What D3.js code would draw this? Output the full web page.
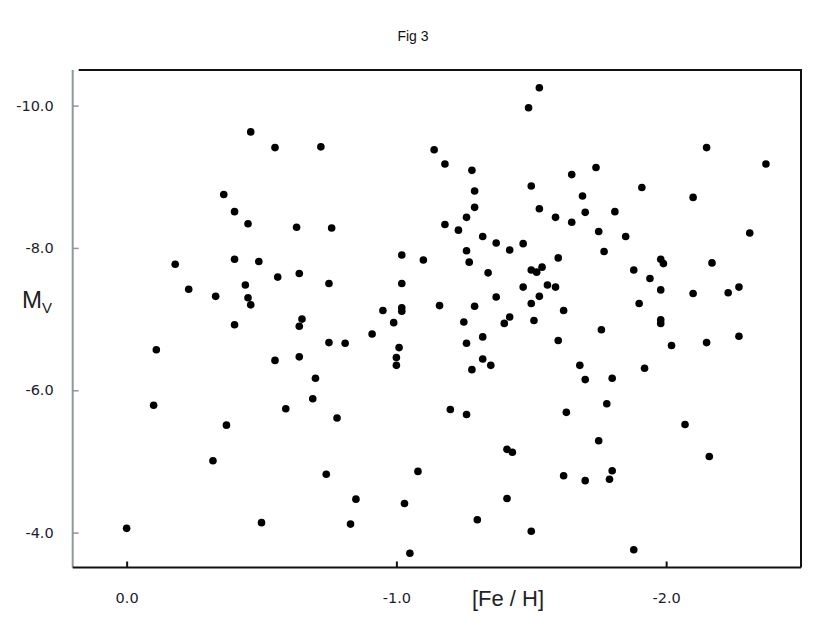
<!DOCTYPE html>
<html>
<head>
<meta charset="utf-8">
<script src="https://cdn.jsdelivr.net/npm/d3@7"></script>
<style>
  body { margin: 0; background: #fff; }
  svg { display: block; }
</style>
</head>
<body>
<div id="chart"></div>
<script>
// [Fe/H] and M_V, one pair per star
var feH = [
  0.00, -0.11, -0.10, -0.18, -0.23, -0.33, -0.32, -0.36, -0.37, -0.40,
  -0.40, -0.40, -0.44, -0.45, -0.45, -0.46, -0.46, -0.49, -0.50, -0.55,
  -0.55, -0.56, -0.59, -0.63, -0.64, -0.64, -0.64, -0.65, -0.69, -0.70,
  -0.72, -0.74, -0.75, -0.75, -0.76, -0.78, -0.81, -0.83, -0.85, -0.91,
  -0.95, -0.99, -1.01, -1.00, -1.00, -1.02, -1.02, -1.02, -1.02, -1.03,
  -1.05, -1.08, -1.10, -1.14, -1.16, -1.18, -1.18, -1.20, -1.23, -1.25,
  -1.26, -1.26, -1.26, -1.26, -1.27, -1.28, -1.28, -1.29, -1.29, -1.29,
  -1.30, -1.32, -1.32, -1.32, -1.34, -1.35, -1.37, -1.37, -1.40, -1.41,
  -1.41, -1.42, -1.42, -1.43, -1.47, -1.47, -1.49, -1.50, -1.50, -1.50,
  -1.50, -1.51, -1.52, -1.53, -1.53, -1.53, -1.54, -1.56, -1.59, -1.59,
  -1.60, -1.60, -1.62, -1.62, -1.63, -1.65, -1.65, -1.68, -1.69, -1.70,
  -1.70, -1.70, -1.74, -1.75, -1.75, -1.76, -1.77, -1.78, -1.79, -1.80,
  -1.80, -1.81, -1.85, -1.88, -1.88, -1.90, -1.91, -1.92, -1.94, -1.98,
  -1.99, -1.98, -1.98, -1.98, -2.02, -2.07, -2.10, -2.10, -2.15, -2.15,
  -2.16, -2.17, -2.23, -2.27, -2.27, -2.31, -2.37
];
var mV = [
  -4.06, -6.57, -5.79, -7.77, -7.42, -7.32, -5.01, -8.75, -5.51, -8.51,
  -7.84, -6.92, -7.48, -8.34, -7.30, -7.20, -9.63, -7.81, -4.14, -9.41,
  -6.42, -7.59, -5.74, -8.29, -7.64, -6.90, -6.47, -7.00, -5.88, -6.17,
  -9.42, -4.82, -7.50, -6.67, -8.28, -5.61, -6.66, -4.12, -4.47, -6.79,
  -7.12, -6.95, -6.60, -6.46, -6.35, -7.90, -7.50, -7.16, -7.11, -4.41,
  -3.71, -4.86, -7.83, -9.38, -7.19, -9.18, -8.33, -5.73, -8.25, -6.96,
  -8.43, -7.96, -6.66, -5.66, -7.80, -9.09, -6.29, -8.80, -8.57, -7.18,
  -4.18, -8.16, -6.75, -6.44, -7.65, -6.35, -8.07, -7.31, -6.94, -5.17,
  -4.48, -7.97, -7.03, -5.13, -8.06, -7.45, -9.97, -8.87, -7.69, -7.22,
  -4.02, -6.98, -7.66, -10.25, -8.55, -7.32, -7.73, -7.48, -8.43, -7.45,
  -7.86, -6.70, -7.12, -4.80, -5.69, -9.03, -8.36, -6.35, -8.73, -8.50,
  -6.15, -4.73, -9.13, -8.23, -5.29, -6.85, -7.95, -5.81, -4.75, -6.17,
  -4.87, -8.51, -8.16, -7.69, -3.76, -7.22, -8.85, -6.31, -7.57, -7.84,
  -7.78, -7.41, -6.99, -6.94, -6.63, -5.52, -8.71, -7.36, -9.41, -6.67,
  -5.07, -7.79, -7.37, -7.45, -6.76, -8.21, -9.18
];

var xTicks = [0, -1, -2];
var yTicks = [-10, -8, -6, -4];

(function() {
    var width = 830, height = 642;
    var plotLeft = 72.7, plotRight = 801, plotTop = 70, plotBottom = 567.5;

    var svg = d3.select("#chart").append("svg")
        .attr("width", width)
        .attr("height", height);

    // both axes run "backwards": metal-poor to the right, bright stars at the top
    var x = d3.scaleLinear().domain([0.2, -2.5]).range([plotLeft, plotRight]);
    var y = d3.scaleLinear().domain([-3.51, -10.5]).range([plotBottom, plotTop]);

    var points = d3.zip(feH, mV);

    svg.append("text")
        .attr("x", 413)
        .attr("y", 41)
        .attr("text-anchor", "middle")
        .style("font-family", "'Liberation Sans Narrow', 'Arial Narrow', 'Liberation Sans', sans-serif")
        .style("font-size", "14px")
        .style("fill", "#111")
        .text("Fig 3");

    // frame: top and right in black
    svg.append("path")
        .attr("d", "M" + (plotLeft + 6) + "," + plotTop + "H" + plotRight + "V" + plotBottom)
        .attr("fill", "none")
        .attr("stroke", "#111")
        .attr("stroke-width", 2);

    var yAxis = svg.append("g")
        .attr("transform", "translate(" + plotLeft + ",0)")
        .call(d3.axisLeft(y)
            .tickValues(yTicks)
            .tickSizeInner(-6)
            .tickSizeOuter(0)
            .tickPadding(19)
            .tickFormat(function(d) { return d.toFixed(1); }));

    yAxis.select(".domain")
        .attr("d", "M0," + plotTop + "V" + plotBottom)
        .attr("stroke", "#8c9a9a")
        .attr("stroke-width", 2);
    yAxis.selectAll(".tick line").attr("stroke", "#8c9a9a").attr("stroke-width", 1.5);

    var xAxis = svg.append("g")
        .attr("transform", "translate(0," + plotBottom + ")")
        .call(d3.axisBottom(x)
            .tickValues(xTicks)
            .tickSizeInner(-6)
            .tickSizeOuter(0)
            .tickPadding(25)
            .tickFormat(function(d) { return d.toFixed(1); }));

    xAxis.select(".domain")
        .attr("d", "M" + plotLeft + ",0H" + plotRight)
        .attr("stroke", "#111")
        .attr("stroke-width", 2);
    xAxis.selectAll(".tick line").attr("stroke", "#111").attr("stroke-width", 2);

    svg.selectAll(".tick text")
        .style("font-family", "'DejaVu Sans', Verdana, sans-serif")
        .style("font-size", "14.5px")
        .style("fill", "#1c1c2a");

    // axis titles
    var yTitle = svg.append("text")
        .attr("x", 22)
        .attr("y", 308)
        .style("font-family", "'Liberation Sans', Arial, sans-serif")
        .style("fill", "#222");
    yTitle.append("tspan").style("font-size", "24px").text("M");
    yTitle.append("tspan").style("font-size", "15px").attr("dy", 5).text("V");

    svg.append("text")
        .attr("x", 508)
        .attr("y", 606)
        .attr("text-anchor", "middle")
        .style("font-family", "'Liberation Sans', Arial, sans-serif")
        .style("font-size", "22px")
        .style("fill", "#222")
        .text("[Fe / H]");

    svg.append("g")
        .selectAll("circle")
        .data(points)
        .enter().append("circle")
        .attr("cx", function(d) { return x(d[0]); })
        .attr("cy", function(d) { return y(d[1]); })
        .attr("r", 3.8)
        .attr("fill", "#000");
})();
</script>
</body>
</html>
